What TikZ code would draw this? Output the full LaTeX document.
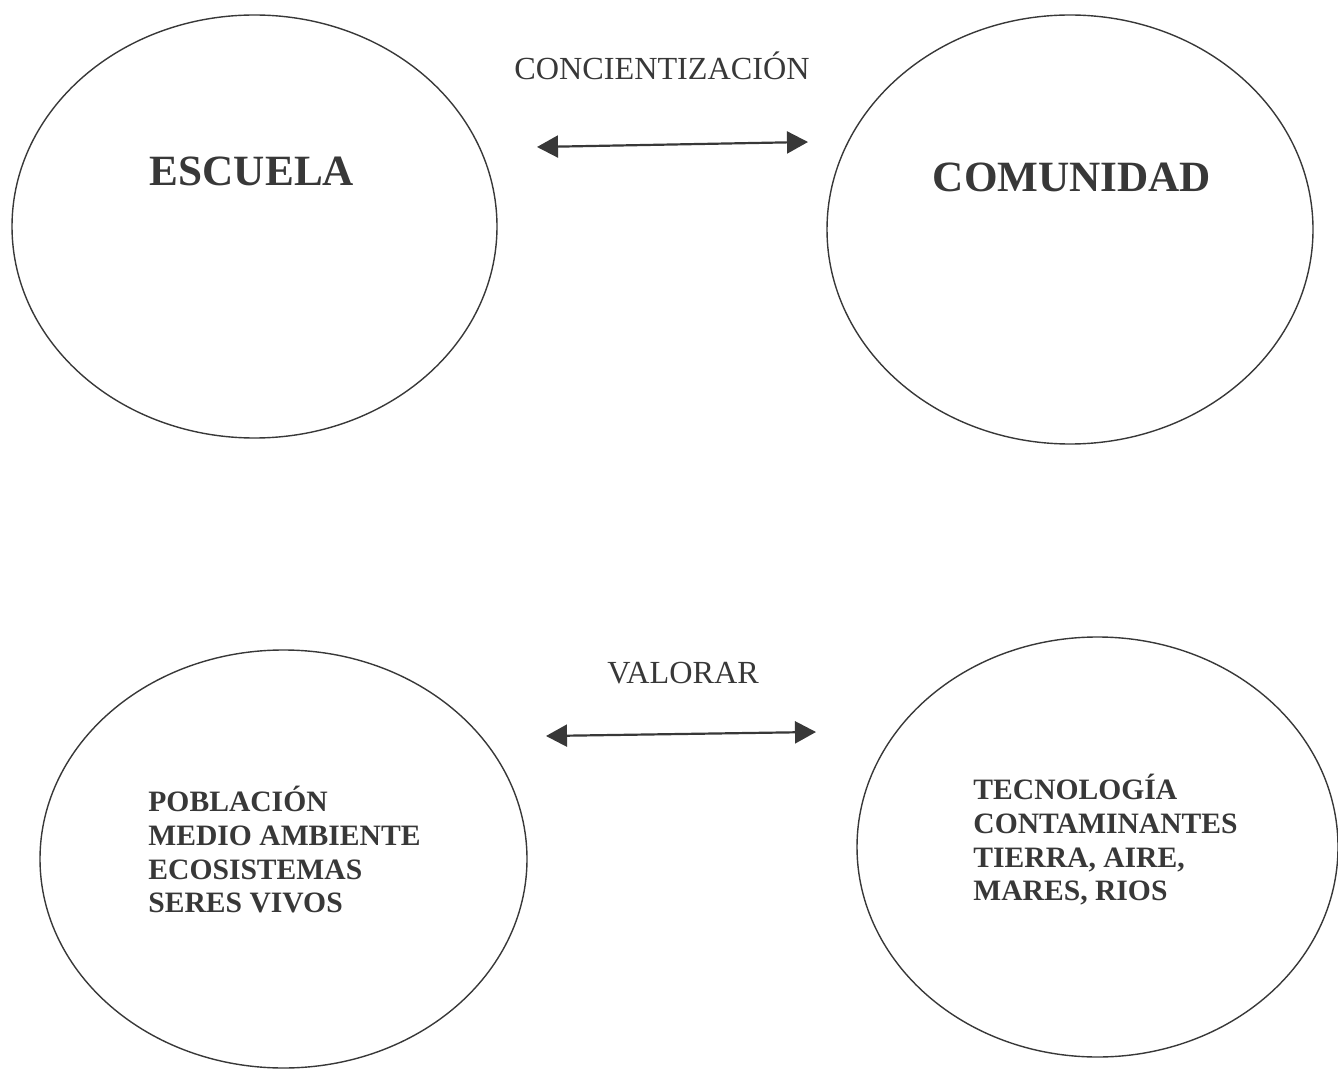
\documentclass[tikz,border=0pt]{standalone}
\usepackage{fontspec}
\setmainfont{Liberation Serif}
\usepackage{tikz}
\usetikzlibrary{arrows.meta,shapes.geometric,positioning}
\definecolor{tinta}{gray}{0.22}
\tikzset{
    >={Triangle[length=10.5pt,width=11pt]},
    circulo/.style={
        ellipse,
        draw=tinta, line width=0.7pt,
        inner sep=0pt
    },
    titulo/.style={
        text=tinta, anchor=base, inner sep=0pt,
        font={\bfseries\fontsize{21.6pt}{26}\selectfont}
    },
    enlace/.style={
        text=tinta, anchor=base, inner sep=0pt,
        font={\fontsize{16.1pt}{19}\selectfont}
    },
    lista/.style={
        text=tinta, anchor=north west, inner sep=0pt, align=left,
        font={\bfseries\fontsize{14.8pt}{16.8pt}\selectfont}
    },
    flecha/.style={draw=tinta, fill=tinta, line width=1.1pt, <->},
}

\begin{document}
\begin{tikzpicture}[x=0.5pt, y=-0.5pt]
\useasboundingbox (0,0) rectangle (1338,1069);

% los cuatro circulos
\node [circulo, minimum width=242.5pt, minimum height=211.5pt] (escuela) at (254.5,226.5) {};
\node [circulo, minimum width=243pt, minimum height=214.5pt] (comunidad) at (1070,229.5) {};
\node [circulo, minimum width=243.5pt, minimum height=209pt] (poblacion) at (283.5,859) {};
\node [circulo, minimum width=240.5pt, minimum height=210pt] (tecnologia) at (1097.5,847) {};

% titulos
\node [titulo] (t-escuela) at (252,186) {ESCUELA};
\node [titulo] (t-comunidad) at (1072,192) {COMUNIDAD};

% flechas entre los circulos
\coordinate (c-izq) at (537,147);
\coordinate (c-der) at (808,142);
\coordinate (v-izq) at (546,736);
\coordinate (v-der) at (816,732);
\draw [flecha] (c-izq) -- (c-der);
\draw [flecha] (v-izq) -- (v-der);

\node [enlace] (concientizacion) at (662,80) {CONCIENTIZACIÓN};
\node [enlace] (valorar) at (683,683) {VALORAR};

% contenidos
\node [lista] (l-poblacion) at (148,786)
  {POBLACIÓN\\MEDIO AMBIENTE\\ECOSISTEMAS\\SERES VIVOS};
\node [lista] (l-tecnologia) at (973,774)
  {TECNOLOGÍA\\CONTAMINANTES\\TIERRA, AIRE,\\MARES, RIOS};

\end{tikzpicture}
\end{document}
